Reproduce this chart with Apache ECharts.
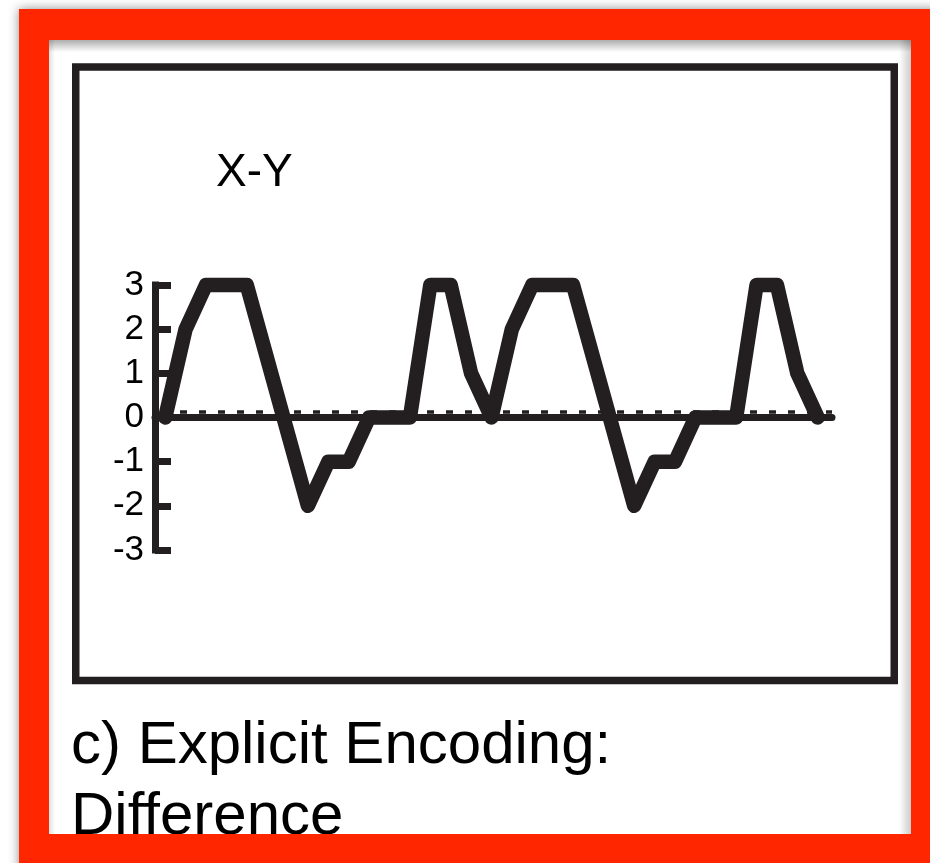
<!DOCTYPE html>
<html>
<head>
<meta charset="utf-8">
<script src="https://cdn.jsdelivr.net/npm/echarts@6/dist/echarts.min.js"></script>
<style>
  html, body { margin: 0; padding: 0; background: #fff; }
  #chart { width: 930px; height: 863px; }
</style>
</head>
<body>
<div id="chart"></div>
<script>
// Time steps and the X-Y difference at each step (vertices of the trace)
const steps = [0, 1, 2, 3, 4, 7, 8, 9, 10, 11, 12, 13, 14, 15, 16,
               17, 18, 19, 20, 23, 24, 25, 26, 27, 28, 29, 30, 31, 32];
const diffValues = [0, 2, 3, 3, 3, -2, -1, -1, 0, 0, 0, 3, 3, 1, 0,
                    2, 3, 3, 3, -2, -1, -1, 0, 0, 0, 3, 3, 1, 0];
const yTicks = [-3, -2, -1, 0, 1, 2, 3];
const titleText = 'X-Y';
const captionLines = ['c) Explicit Encoding:', 'Difference'];

const INK = '#231f20';
const RED = '#ff2600';
const FONT = "'Liberation Sans', Arial, Helvetica, sans-serif";

const points = steps.map((s, i) => [s, diffValues[i]]);

const shade = (x, y, x2, y2, a) => ({
  type: 'linear', x: x, y: y, x2: x2, y2: y2,
  colorStops: [{ offset: 0, color: 'rgba(0,0,0,' + a + ')' }, { offset: 1, color: 'rgba(0,0,0,0)' }]
});

const chart = echarts.init(document.getElementById('chart'), null, { renderer: 'canvas' });
chart.setOption({
  animation: false,
  backgroundColor: '#ffffff',
  textStyle: { fontFamily: FONT },
  title: {
    text: titleText,
    left: 211,
    top: 145,
    textStyle: { fontSize: 46, fontWeight: 'normal', color: '#000', fontFamily: FONT }
  },
  grid: { left: 155, top: 285, width: 677, height: 265, containLabel: false, outerBoundsMode: 'none' },
  xAxis: {
    type: 'value',
    min: -0.5,
    max: 32.7,
    axisLine: { show: true, onZero: true, lineStyle: { color: INK, width: 7 } },
    axisTick: { show: false },
    axisLabel: { show: false },
    splitLine: { show: false }
  },
  yAxis: {
    type: 'value',
    min: yTicks[0],
    max: yTicks[yTicks.length - 1],
    interval: 1,
    axisLine: { show: true, onZero: false, lineStyle: { color: INK, width: 7, cap: 'square' } },
    axisTick: { show: true, inside: true, length: 16, lineStyle: { color: INK, width: 7 } },
    axisLabel: { color: '#000', fontSize: 35, margin: 11, fontFamily: FONT, padding: [0, 0, 4, 0] },
    splitLine: { show: false }
  },
  series: [
    {
      // dotted rim along the top of the zero line
      type: 'custom',
      coordinateSystem: 'cartesian2d',
      data: [[0, 0]],
      silent: true,
      clip: false,
      z: 3,
      renderItem: function (params, api) {
        const cs = params.coordSys;
        const y0 = api.coord([0, 0])[1] - 5.5;
        return {
          type: 'line',
          shape: { x1: cs.x + 6, y1: y0, x2: cs.x + cs.width, y2: y0 },
          style: { stroke: INK, lineWidth: 3.5, lineDash: [7, 12] }
        };
      }
    },
    {
      type: 'line',
      data: points,
      symbol: 'none',
      clip: false,
      z: 5,
      lineStyle: { color: INK, width: 14.5, cap: 'round', join: 'round' }
    }
  ],
  graphic: {
    elements: [
      { type: 'rect', z: -10, silent: true, shape: { x: 19, y: 9, width: 930, height: 880 },
        style: { fill: RED, shadowBlur: 10, shadowColor: 'rgba(0,0,0,0.45)' } },
      { type: 'rect', z: -9, silent: true, shape: { x: 49, y: 40, width: 862, height: 794 },
        style: { fill: '#ffffff' } },
      { type: 'rect', z: 1, silent: true, shape: { x: 75.75, y: 67, width: 818.5, height: 613.5 },
        style: { fill: 'none', stroke: INK, lineWidth: 7.5 } },
      { type: 'text', z: 10, silent: true, x: 71, y: 711,
        style: { text: captionLines.join('\n'), font: '60px ' + FONT, lineHeight: 71, fill: '#000', verticalAlign: 'top' } },
      { type: 'rect', z: 99, silent: true, shape: { x: 49, y: 40, width: 862, height: 12 },
        style: { fill: shade(0, 0, 0, 1, 0.32) } },
      { type: 'rect', z: 99, silent: true, shape: { x: 899, y: 40, width: 12, height: 794 },
        style: { fill: shade(1, 0, 0, 0, 0.2) } },
      { type: 'rect', z: 99, silent: true, shape: { x: 49, y: 40, width: 6, height: 794 },
        style: { fill: shade(0, 0, 1, 0, 0.12) } },
      { type: 'rect', z: 100, silent: true, shape: { x: 19, y: 834, width: 911, height: 29 },
        style: { fill: RED } }
    ]
  }
});
</script>
</body>
</html>
